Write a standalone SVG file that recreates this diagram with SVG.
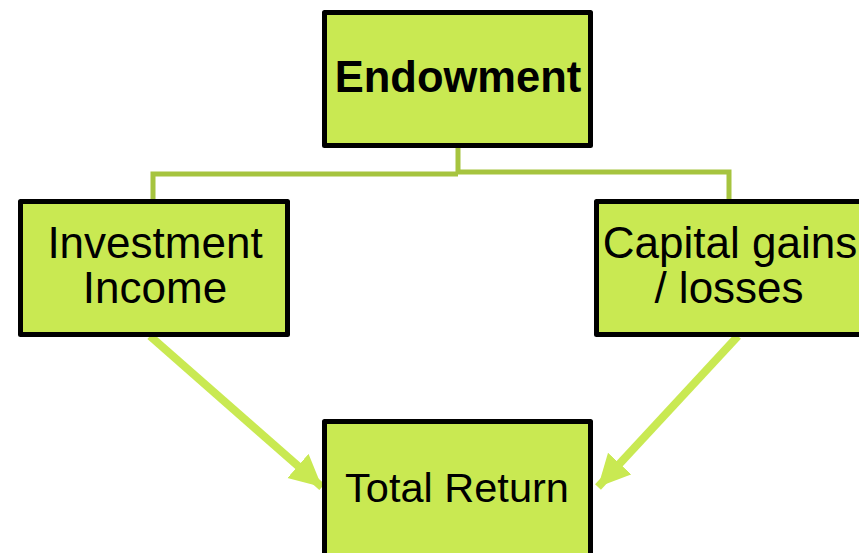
<svg xmlns="http://www.w3.org/2000/svg" width="859" height="553" viewBox="0 0 859 553">
<style>
.box{fill:#c9e952;stroke:#000;stroke-width:5;stroke-linejoin:round}
.t{font-family:"Liberation Sans",Arial,sans-serif;font-size:44px;fill:#000;text-anchor:middle}
.b{font-weight:bold;font-size:43.5px}
.tr{font-size:41.5px}
.tree{fill:none;stroke:#a6c43f;stroke-width:5}
.arr{fill:none;stroke:#c9e952;stroke-width:8}
</style>
<defs>
<marker id="ah" markerUnits="userSpaceOnUse" markerWidth="40" markerHeight="40" refX="32" refY="16" orient="auto">
<path d="M0,0 L32,16 L0,32 Z" fill="#c9e952"/>
</marker>
</defs>
<g id="connectors">
<path class="tree" d="M458,148 V172 M153,200 V174 H458 M458,172 H729 V200"/>
<path class="arr" d="M150,336 L322,487" marker-end="url(#ah)"/>
<path class="arr" d="M738,336 L598,487" marker-end="url(#ah)"/>
</g>
<g id="endowment">
<rect class="box" x="324.5" y="12.5" width="266" height="133"/>
<text class="t b" x="458" y="92">Endowment</text>
</g>
<g id="investment-income">
<rect class="box" x="20.5" y="201.5" width="267" height="133"/>
<text class="t" x="155" y="258">Investment</text>
<text class="t" x="155" y="303">Income</text>
</g>
<g id="capital-gains">
<rect class="box" x="596.5" y="201.5" width="270" height="133"/>
<text class="t" x="730" y="258">Capital gains</text>
<text class="t" x="729" y="303">/ losses</text>
</g>
<g id="total-return">
<rect class="box" x="324.5" y="421.5" width="266" height="140"/>
<text class="t tr" x="457" y="502">Total Return</text>
</g>
</svg>
